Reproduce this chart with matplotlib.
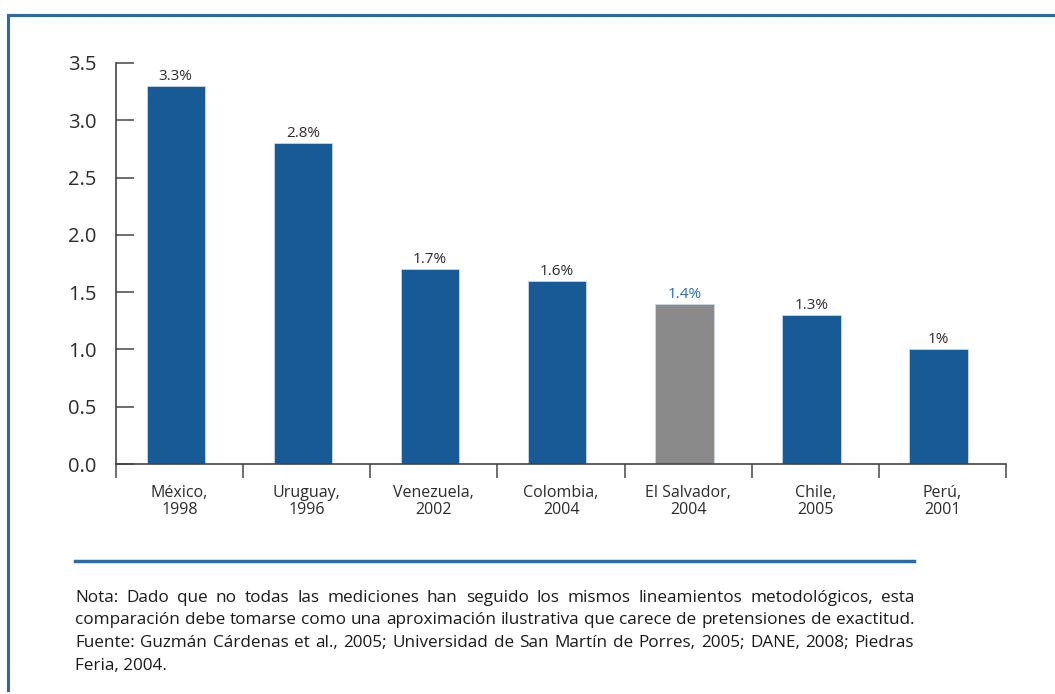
import matplotlib
matplotlib.use("Agg")
import matplotlib.pyplot as plt
from matplotlib import font_manager
from matplotlib.lines import Line2D

# data
paises = ["México,\n1998", "Uruguay,\n1996", "Venezuela,\n2002", "Colombia,\n2004",
          "El Salvador,\n2004", "Chile,\n2005", "Perú,\n2001"]
valores = [3.3, 2.8, 1.7, 1.6, 1.4, 1.3, 1.0]
etiquetas = ["3.3%", "2.8%", "1.7%", "1.6%", "1.4%", "1.3%", "1%"]
resaltado = 4  # El Salvador
yticks = [0.0, 0.5, 1.0, 1.5, 2.0, 2.5, 3.0, 3.5]

nota = [
    "Nota: Dado que no todas las mediciones han seguido los mismos lineamientos metodológicos, esta",
    "comparación debe tomarse como una aproximación ilustrativa que carece de pretensiones de exactitud.",
    "Fuente: Guzmán Cárdenas et al., 2005; Universidad de San Martín de Porres, 2005; DANE, 2008; Piedras",
    "Feria, 2004.",
]

AZUL = "#175a96"
GRIS = "#8a8a8a"
BORDE = "#2f67a8"
OSCURO = "#2b2b2b"

def pick(names):
    avail = {f.name for f in font_manager.fontManager.ttflist}
    for n in names:
        if n in avail:
            return n
    return "DejaVu Sans"

FONT = pick(["Open Sans", "Noto Sans", "Lato"])
plt.rcParams["font.family"] = [FONT, "DejaVu Sans"]

W, H = 1055, 694
fig = plt.figure(figsize=(W / 100, H / 100), dpi=100)

def px(x0, y_top, x1, y_bot):
    return [x0 / W, 1 - y_bot / H, (x1 - x0) / W, (y_bot - y_top) / H]

ax = fig.add_axes(px(116, 63, 1006, 464))
x = [i - 0.03 for i in range(len(valores))]
colores = [GRIS if i == resaltado else AZUL for i in range(len(valores))]
bars = ax.bar(x, valores, width=0.46, color=colores, edgecolor="#c9d6e6", linewidth=0.6)

for i, (b, t) in enumerate(zip(bars, etiquetas)):
    ax.annotate(t, (b.get_x() + b.get_width() / 2, b.get_height()),
                xytext=(0, 1.5), textcoords="offset points", ha="center", va="bottom",
                fontsize=11, color="#2a6cb0" if i == resaltado else OSCURO)

ax.set_xlim(-0.5, len(valores) - 0.5)
ax.set_ylim(0, 3.5)
ax.set_yticks(yticks)
ax.set_yticklabels([f"{v:.1f}" for v in yticks], fontsize=14.5, color=OSCURO)
ax.tick_params(axis="y", direction="in", length=13, width=1.2, color="#555555", pad=14)

ax.set_xticks(range(len(valores)))
ax.set_xticklabels(paises, fontsize=11.5, color=OSCURO, linespacing=1.1)
ax.tick_params(axis="x", which="major", length=0, pad=15)
ax.set_xticks([i - 0.5 for i in range(len(valores) + 1)], minor=True)
ax.tick_params(axis="x", which="minor", direction="out", length=10, width=1.2, color="#555555")

for s in ["top", "right"]:
    ax.spines[s].set_visible(False)
for s in ["left", "bottom"]:
    ax.spines[s].set_color("#444444")
    ax.spines[s].set_linewidth(1.2)

# marco
fig.add_artist(Line2D([8 / W, 1], [1 - 15 / H] * 2, color=BORDE, lw=2.2))
fig.add_artist(Line2D([8 / W] * 2, [1 - 15 / H, 1 - 690 / H], color=BORDE, lw=2.2))
# linea separadora
fig.add_artist(Line2D([75 / W, 914 / W], [1 - 561 / H] * 2, color="#2c6ba8", lw=2.5))

# nota justificada
fig.canvas.draw()
r = fig.canvas.get_renderer()
x0, x1 = 75, 914
ys = [598, 620.5, 643, 665.5]
for k, (linea, y) in enumerate(zip(nota, ys)):
    kw = dict(fontsize=12.3, color="#1a1a1a", va="center", ha="left")
    if k == len(nota) - 1:
        fig.text(x0 / W, 1 - y / H, linea, **kw)
        continue
    palabras = linea.split(" ")
    arts = [fig.text(0, 1 - y / H, p, **kw) for p in palabras]
    anchos = [a.get_window_extent(r).width for a in arts]
    gap = (x1 - x0 - sum(anchos)) / (len(palabras) - 1)
    pos = x0
    for a, w in zip(arts, anchos):
        a.set_x(pos / W)
        pos += w + gap

fig.savefig("out.png", dpi=100)
